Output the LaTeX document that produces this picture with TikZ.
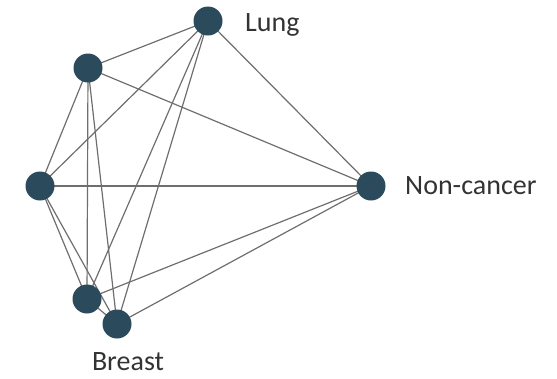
\documentclass[tikz,border=0pt]{standalone}
\usepackage{fontspec}
\setmainfont{Carlito}
\definecolor{nodecol}{HTML}{2B4A5C}
\definecolor{edgecol}{HTML}{6E6E6E}
\definecolor{textcol}{HTML}{333333}
\begin{document}
\begin{tikzpicture}[x=1pt,y=-1pt,
  dot/.style={circle,fill=nodecol,draw=none,minimum size=29pt,inner sep=0pt},
  lbl/.style={text=textcol,font=\fontsize{28}{32}\selectfont,inner sep=0pt,anchor=base west},
  edge/.style={draw=edgecol,line width=1.2pt}]
\useasboundingbox (0,0) rectangle (557,378);
\coordinate (pL) at (208,21);
\coordinate (pA) at (88,68);
\coordinate (pB) at (40,186);
\coordinate (pN) at (371,186);
\coordinate (pC) at (87,299);
\coordinate (pD) at (117,324);
\foreach \u/\v in {pL/pA,pL/pB,pL/pC,pL/pD,pL/pN,pA/pB,pA/pC,pA/pD,pA/pN,pB/pN,pB/pC,pB/pD,pC/pN,pD/pN,pC/pD}
  \draw[edge] (\u) -- (\v);
\node[dot] (L) at (pL) {};
\node[dot] (A) at (pA) {};
\node[dot] (B) at (pB) {};
\node[dot] (N) at (pN) {};
\node[dot] (C) at (pC) {};
\node[dot] (D) at (pD) {};
\node[lbl] (tL) at (245,31) {Lung};
\node[lbl] (tN) at (405,194) {Non-cancer};
\node[lbl,anchor=base] (tB) at (128,370) {Breast};
\end{tikzpicture}
\end{document}
